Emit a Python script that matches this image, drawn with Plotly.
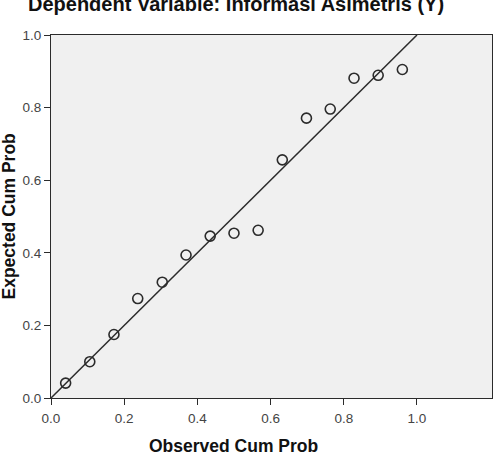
import plotly.graph_objects as go

# P-P plot values
observed_cum_prob = [0.040, 0.106, 0.172, 0.237, 0.304, 0.369, 0.435, 0.500,
                     0.566, 0.632, 0.698, 0.763, 0.828, 0.894, 0.960]
expected_cum_prob = [0.041, 0.100, 0.175, 0.274, 0.319, 0.394, 0.446, 0.454,
                     0.462, 0.656, 0.771, 0.796, 0.881, 0.889, 0.905]
ref_line = [0.0, 1.0]
tick_vals = [0.0, 0.2, 0.4, 0.6, 0.8, 1.0]
tick_text = ['0.0', '0.2', '0.4', '0.6', '0.8', '1.0']

FONT = 'Liberation Sans, Arial, sans-serif'
DARK = '#2b2b2b'

fig = go.Figure()

# Reference diagonal
fig.add_trace(go.Scatter(
    x=ref_line, y=ref_line,
    mode='lines',
    line=dict(color=DARK, width=1.5),
    hoverinfo='skip',
    showlegend=False
))

# Open circle markers
fig.add_trace(go.Scatter(
    x=observed_cum_prob, y=expected_cum_prob,
    mode='markers',
    marker=dict(symbol='circle-open', size=10, color=DARK, line=dict(width=1.6, color=DARK)),
    showlegend=False
))

axis_style = dict(
    showgrid=False,
    zeroline=False,
    showline=True,
    mirror=True,
    linecolor=DARK,
    linewidth=1.2,
    ticks='outside',
    ticklen=6,
    tickwidth=1.2,
    tickcolor=DARK,
    tickmode='array',
    tickvals=tick_vals,
    ticktext=tick_text,
    tickfont=dict(family=FONT, size=13.5, color='#444444'),
    fixedrange=True,
)

fig.update_layout(
    width=495,
    height=460,
    margin=dict(l=51, r=3, t=35, b=62),
    plot_bgcolor='#f0f0f0',
    paper_bgcolor='white',
    xaxis=dict(range=[0, 1.205], ticklabelstandoff=2, **axis_style),
    yaxis=dict(range=[0, 1.0], **axis_style),
    annotations=[
        # Title, partly cut off at the top as in the original
        dict(text='<b>Dependent Variable: Informasi Asimetris (Y)</b>',
             xref='paper', yref='paper', x=0.42, y=1.086,
             xanchor='center', yanchor='middle', showarrow=False,
             font=dict(family=FONT, size=20, color='#111111')),
        dict(text='<b>Observed Cum Prob</b>',
             xref='x', yref='paper', x=0.5, y=-0.132,
             xanchor='center', yanchor='middle', showarrow=False,
             font=dict(family=FONT, size=17.5, color='#111111')),
        dict(text='<b>Expected Cum Prob</b>',
             xref='paper', yref='y', x=-0.0975, y=0.5, textangle=-90,
             xanchor='center', yanchor='middle', showarrow=False,
             font=dict(family=FONT, size=17.5, color='#111111')),
    ],
)

# drop the default page margin so the figure sits at the window's corner
fig.write_html("out.html", config={'displayModeBar': False},
               post_script="document.body.style.margin='0';")
